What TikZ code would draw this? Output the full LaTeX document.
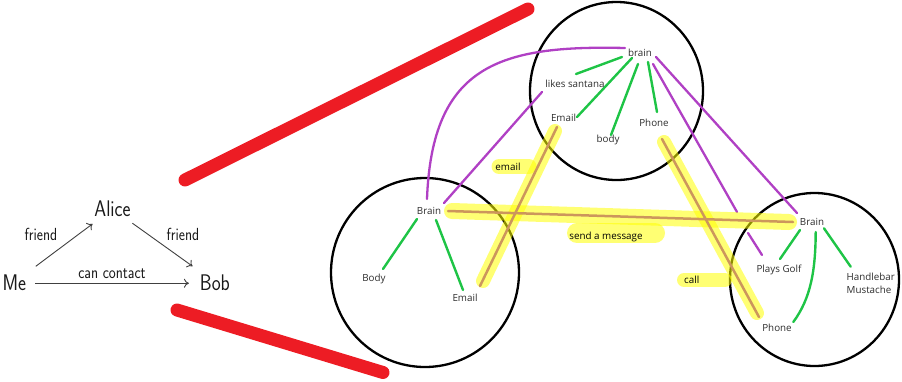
\documentclass[tikz,border=0pt]{standalone}
\usepackage{fontspec}
\usepackage{graphicx}
\newfontfamily\segoe{Open Sans}
\usetikzlibrary{arrows.meta}
\definecolor{redpen}{RGB}{237,28,36}
\definecolor{greenpen}{RGB}{30,196,70}
\definecolor{purplepen}{RGB}{176,64,196}
\definecolor{tanpen}{RGB}{204,150,92}
\definecolor{hl}{RGB}{255,255,0}
\definecolor{txt}{RGB}{45,45,45}
\definecolor{ink}{RGB}{25,25,25}
\newcommand{\sqz}[1]{\scalebox{0.84}[1]{#1}}
\begin{document}
\begin{tikzpicture}[x=1pt,y=-1pt,
 every node/.style={inner sep=0pt, outer sep=0pt},
 bigtext/.style={font=\sffamily\fontsize{22.6}{27}\selectfont, text=ink, anchor=base, inner sep=4pt},
 lbltext/.style={font=\sffamily\fontsize{17.5}{21}\selectfont, text=ink, anchor=base},
 rel/.style={draw=black!75, line width=0.9pt, -{To[length=5pt,width=9pt]}},
 redstroke/.style={draw=redpen, line width=13pt, line cap=round},
 ring/.style={draw=black, line width=2.3pt},
 word/.style={font=\segoe\fontsize{9.8}{12.6}\selectfont, text=txt, anchor=base},
 gline/.style={draw=greenpen, line width=2.4pt, line cap=round},
 pline/.style={draw=purplepen, line width=2.3pt, line cap=round},
 hilite/.style={draw=hl, line width=15pt, line cap=round, opacity=0.55},
 tanline/.style={draw=tanpen, line width=2.5pt, line cap=round},
]
\useasboundingbox (0,0) rectangle (902,381);
% red strokes
\draw[redstroke] (185,180) -- (528,9);
\draw[redstroke] (177,310) -- (383,372.5);
% circles
\draw[ring] (425,272.5) ellipse [x radius=94pt, y radius=94.5pt];
\draw[ring] (616.5,91) ellipse [x radius=86.5pt, y radius=89pt];
\draw[ring] (814.5,279.5) ellipse [x radius=84.5pt, y radius=86.5pt];

% left diagram
\node[bigtext] (me) at (14.4,290) {\sqz{Me}};
\node[bigtext] (alice) at (112.5,216.7) {\sqz{Alice}};
\node[bigtext] (bob) at (214.9,290) {\sqz{Bob}};
\draw[rel, shorten <=7pt, shorten >=5pt] (me) -- (alice);
\draw[rel, shorten <=4pt, shorten >=7pt] (alice) -- (bob);
\draw[rel, shorten <=5pt, shorten >=7pt] ([yshift=-1pt]me.east) -- ([yshift=-1pt]me.east -| bob.west);
\node[lbltext] (f1) at (41,240) {\sqz{friend}};
\node[lbltext] (f2) at (183,240) {\sqz{friend}};
\node[lbltext] (cc) at (112,278) {\sqz{can contact}};

% connector end points
\coordinate (LB1) at (417,219);   \coordinate (LBody) at (383,269);
\coordinate (LB2) at (436,220);   \coordinate (LEmail) at (463,290);
\coordinate (TB1) at (622,57);    \coordinate (TLikes) at (576,74);
\coordinate (TB2) at (632,58);    \coordinate (TEmail) at (577,117);
\coordinate (TB3) at (638,64);    \coordinate (TBody) at (611,135);
\coordinate (TB4) at (648,62);    \coordinate (TPhone) at (657,112);
\coordinate (RB1) at (800,230);   \coordinate (RGolf) at (780,259);
\coordinate (RB2) at (815.7,232); \coordinate (RPhone) at (793.3,322);
\coordinate (RB3) at (824,228.3); \coordinate (RMust) at (850.7,266.7);
\coordinate (TB5) at (625,48);    \coordinate (LB3) at (427,199);
\coordinate (LB4) at (444,203);   \coordinate (TLeft) at (542,92);
\coordinate (TB6) at (656,57);    \coordinate (RB4) at (797,213);
\coordinate (TB7) at (653,64);    \coordinate (PGa) at (737,212);
\coordinate (PGb) at (748,233);   \coordinate (RGolfTop) at (762,255);

% green
\draw[gline] (LB1) -- (LBody);
\draw[gline] (LB2) -- (LEmail);
\draw[gline] (TB1) -- (TLikes);
\draw[gline] (TB2) -- (TEmail);
\draw[gline] (TB3) -- (TBody);
\draw[gline] (TB4) -- (TPhone);
\draw[gline] (RB1) -- (RGolf);
\draw[gline] (RB2) .. controls (815.5,270) and (811,298) .. (RPhone);
\draw[gline] (RB3) -- (RMust);
% purple
\draw[pline] (TB5) .. controls (500,45) and (432,65) .. (LB3);
\draw[pline] (LB4) -- (TLeft);
\draw[pline] (TB6) -- (RB4);
\draw[pline] (TB7) -- (PGa);
\draw[pline] (PGb) -- (RGolfTop);

% highlights
\coordinate (HB1) at (448,211);  \coordinate (HB2) at (793,222);
\coordinate (HE1) at (557,127);  \coordinate (HE2) at (480,286);
\coordinate (HP1) at (662,139);  \coordinate (HP2) at (759,317);
\draw[hilite, line width=16pt] (452,211) -- (789,222);
\draw[hilite, line width=14pt] (555,131) -- (483,281);
\draw[hilite, line width=14pt] (664,142) -- (757,313);
\draw[hilite, line width=15pt] (499,166.5) -- (529,166.5);
\draw[hilite, line width=20pt] (577,233) -- (655,233);
\draw[hilite, line width=14pt] (684,280) -- (725,280);
\draw[tanline] (HB1) -- (HB2);
\draw[tanline] (HE1) -- (HE2);
\draw[tanline] (HP1) -- (HP2);

% texts
\node[word] (lbrain) at (429,214) {Brain};
\node[word] (lbody) at (374,281.5) {Body};
\node[word] (lemail) at (465,301.7) {Email};
\node[word] (tbrain) at (640,56) {brain};
\node[word] (tlikes) at (575,87.3) {likes santana};
\node[word] (temail) at (563.5,121.7) {Email};
\node[word] (tbody) at (608,142.5) {body};
\node[word] (tphone) at (654,126.5) {Phone};
\node[word] (rbrain) at (812,225.7) {Brain};
\node[word] (rgolf) at (779,272.5) {Plays Golf};
\node[word, anchor=north west, align=left] (rmust) at (846.7,273.5) {Handlebar\\Mustache};
\node[word] (rphone) at (777,331.7) {Phone};
\node[word, text=black] (lemaillink) at (508,170) {email};
\node[word, text=black] (lmsg) at (606,239.3) {send a message};
\node[word, text=black] (lcall) at (691.7,283.3) {call};
\end{tikzpicture}
\end{document}
